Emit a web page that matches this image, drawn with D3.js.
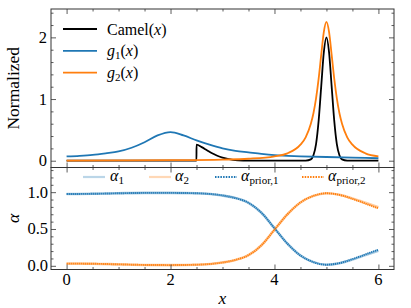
<!DOCTYPE html>
<html><head><meta charset="utf-8">
<script src="https://cdn.jsdelivr.net/npm/d3@7"></script>
<style>
html,body{margin:0;padding:0;background:#fff;}
text{font-family:"Liberation Serif","Times New Roman",serif;fill:#000;}
</style></head>
<body><svg id="c" width="411" height="308"></svg>
<script>
// ---------- data ----------
const camelX = [0, 1, 2, 2.499, 2.5, 2.6, 2.7, 2.8, 2.9, 3.0, 3.1, 3.2, 3.3, 3.5, 4.0, 4.5, 4.6, 4.7, 4.75, 4.8, 4.85, 4.9, 4.95, 5.0, 5.05, 5.1, 5.15, 5.2, 5.25, 5.3, 5.4, 5.5, 6.0];
const camelY = [0, 0, 0, 0, 0.26, 0.22, 0.17, 0.12, 0.08, 0.05, 0.03, 0.015, 0.007, 0.001, 0, 0, 0.002, 0.022, 0.088, 0.27, 0.65, 1.21, 1.76, 2.0, 1.76, 1.21, 0.65, 0.27, 0.088, 0.022, 0.002, 0, 0];
const g1X = [0, 0.25, 0.5, 0.75, 1.0, 1.25, 1.5, 1.75, 2.0, 2.25, 2.5, 2.75, 3.0, 3.25, 3.5, 3.75, 4.0, 4.5, 5.0, 5.5, 6.0];
const g1Y = [0.07, 0.08, 0.095, 0.12, 0.15, 0.21, 0.30, 0.41, 0.465, 0.41, 0.33, 0.26, 0.20, 0.16, 0.135, 0.11, 0.09, 0.072, 0.06, 0.05, 0.04];
const g2X = [0, 1, 2, 3, 3.5, 4, 4.25, 4.5, 4.6, 4.7, 4.75, 4.8, 4.85, 4.9, 4.95, 5.0, 5.05, 5.1, 5.15, 5.2, 5.25, 5.3, 5.4, 5.5, 5.75, 6.0];
const g2Y = [0.003, 0.0045, 0.008, 0.018, 0.032, 0.071, 0.12, 0.26, 0.38, 0.60, 0.77, 1.01, 1.33, 1.72, 2.09, 2.25, 2.09, 1.72, 1.33, 1.01, 0.77, 0.60, 0.38, 0.26, 0.12, 0.071];

const aX = [0, 0.5, 1, 1.5, 2, 2.5, 3, 3.25, 3.5, 3.75, 4, 4.25, 4.5, 4.75, 5, 5.25, 5.5, 5.75, 6];
const alpha1 = [0.975, 0.978, 0.985, 0.99, 0.99, 0.985, 0.955, 0.92, 0.855, 0.72, 0.51, 0.30, 0.14, 0.05, 0.015, 0.035, 0.085, 0.145, 0.205];
const alpha2 = [0.03, 0.028, 0.02, 0.012, 0.01, 0.015, 0.045, 0.08, 0.145, 0.28, 0.49, 0.70, 0.86, 0.95, 0.985, 0.965, 0.915, 0.855, 0.795];
const prior1 = [0.975, 0.978, 0.985, 0.99, 0.99, 0.985, 0.955, 0.92, 0.855, 0.72, 0.51, 0.30, 0.14, 0.05, 0.015, 0.037, 0.09, 0.155, 0.22];
const prior2 = [0.03, 0.028, 0.02, 0.012, 0.01, 0.015, 0.045, 0.08, 0.145, 0.28, 0.49, 0.70, 0.86, 0.95, 0.985, 0.963, 0.91, 0.845, 0.78];

const xMajor = [0, 2, 4, 6];
const xLabels = ["0", "2", "4", "6"];
const topMajor = [0, 1, 2];
const topLabels = ["0", "1", "2"];
const botMajor = [0, 0.5, 1.0];
const botLabels = ["0.0", "0.5", "1.0"];

// ---------- layout ----------
const BLUE = "#1f77b4", ORANGE = "#ff7f0e";
const svg = d3.select("#c");
const L = 51, R = 394, T = 9, MID = 167.5, B = 269.5;
const x = d3.scaleLinear().domain([-0.3, 6.3]).range([L, R]);
const yT = d3.scaleLinear().domain([-0.11, 2.46]).range([MID, T]);
const yB = d3.scaleLinear().domain([-0.05, 1.335]).range([B, MID]);

svg.append("clipPath").attr("id","ct").append("rect").attr("x",L).attr("y",T).attr("width",R-L).attr("height",MID-T);
svg.append("clipPath").attr("id","cb").append("rect").attr("x",L).attr("y",MID).attr("width",R-L).attr("height",B-MID);

function zip(xs, ys){ return xs.map((v,i)=>[v, ys[i]]); }

const gT = svg.append("g").attr("clip-path","url(#ct)");
const gB = svg.append("g").attr("clip-path","url(#cb)");

const lineT = d3.line().x(d=>x(d[0])).y(d=>yT(d[1])).curve(d3.curveMonotoneX);
const lineB = d3.line().x(d=>x(d[0])).y(d=>yB(d[1])).curve(d3.curveMonotoneX);

gT.append("path").attr("d", lineT(zip(camelX, camelY))).attr("fill","none").attr("stroke","#000").attr("stroke-width",1.8);
gT.append("path").attr("d", lineT(zip(g1X, g1Y))).attr("fill","none").attr("stroke",BLUE).attr("stroke-width",1.8);
gT.append("path").attr("d", lineT(zip(g2X, g2Y))).attr("fill","none").attr("stroke",ORANGE).attr("stroke-width",1.8);

const DASH = "1.3,0.7";
gB.append("path").attr("d", lineB(zip(aX, alpha1))).attr("fill","none").attr("stroke",BLUE).attr("stroke-opacity",0.4).attr("stroke-width",2.6);
gB.append("path").attr("d", lineB(zip(aX, alpha2))).attr("fill","none").attr("stroke",ORANGE).attr("stroke-opacity",0.4).attr("stroke-width",2.6);
gB.append("path").attr("d", lineB(zip(aX, prior1))).attr("fill","none").attr("stroke",BLUE).attr("stroke-width",1.9).attr("stroke-dasharray",DASH);
gB.append("path").attr("d", lineB(zip(aX, prior2))).attr("fill","none").attr("stroke",ORANGE).attr("stroke-width",1.9).attr("stroke-dasharray",DASH);

// ---------- axes ----------
const MAJ = 5, MIN = 2.5;
const xMinor = d3.range(0, 6.01, 0.5).filter(v => !xMajor.includes(v));
const topMinor = d3.range(0, 2.41, 0.2).map(v=>+v.toFixed(2)).filter(v => !topMajor.includes(v));
const botMinor = d3.range(0, 1.31, 0.1).map(v=>+v.toFixed(2)).filter(v => !botMajor.includes(v));

function ticks(g, axisFn, scale, vals, size, trans){
  const a = axisFn(scale).tickValues(vals).tickSize(size).tickFormat("");
  const s = g.append("g").attr("transform", trans).call(a);
  s.select(".domain").remove();
  s.selectAll("line").attr("stroke","#333").attr("stroke-width",0.8);
  return s;
}
const ax = svg.append("g");
ticks(ax, d3.axisBottom, x, xMajor, -MAJ, `translate(0,${MID})`);
ticks(ax, d3.axisBottom, x, xMinor, -MIN, `translate(0,${MID})`);
ticks(ax, d3.axisTop, x, xMajor, -MAJ, `translate(0,${T})`);
ticks(ax, d3.axisTop, x, xMinor, -MIN, `translate(0,${T})`);
ticks(ax, d3.axisLeft, yT, topMajor, -MAJ, `translate(${L},0)`);
ticks(ax, d3.axisLeft, yT, topMinor, -MIN, `translate(${L},0)`);
ticks(ax, d3.axisRight, yT, topMajor, -MAJ, `translate(${R},0)`);
ticks(ax, d3.axisRight, yT, topMinor, -MIN, `translate(${R},0)`);
ticks(ax, d3.axisBottom, x, xMajor, -MAJ, `translate(0,${B})`);
ticks(ax, d3.axisBottom, x, xMinor, -MIN, `translate(0,${B})`);
ticks(ax, d3.axisTop, x, xMajor, -MAJ, `translate(0,${MID})`);
ticks(ax, d3.axisTop, x, xMinor, -MIN, `translate(0,${MID})`);
ticks(ax, d3.axisLeft, yB, botMajor, -MAJ, `translate(${L},0)`);
ticks(ax, d3.axisLeft, yB, botMinor, -MIN, `translate(${L},0)`);
ticks(ax, d3.axisRight, yB, botMajor, -MAJ, `translate(${R},0)`);
ticks(ax, d3.axisRight, yB, botMinor, -MIN, `translate(${R},0)`);

svg.append("rect").attr("x",L).attr("y",T).attr("width",R-L).attr("height",MID-T).attr("fill","none").attr("stroke","#333").attr("stroke-width",1);
svg.append("rect").attr("x",L).attr("y",MID).attr("width",R-L).attr("height",B-MID).attr("fill","none").attr("stroke","#333").attr("stroke-width",1);

const FS = 16.5;
svg.append("g").selectAll("text").data(xMajor).join("text")
  .attr("x", d=>x(d)).attr("y", B+15.5).attr("text-anchor","middle").attr("font-size",FS)
  .text((d,i)=>xLabels[i]);
svg.append("g").selectAll("text").data(topMajor).join("text")
  .attr("x", L-4).attr("y", d=>yT(d)+5.5).attr("text-anchor","end").attr("font-size",FS)
  .text((d,i)=>topLabels[i]);
svg.append("g").selectAll("text").data(botMajor).join("text")
  .attr("x", L-3).attr("y", d=>yB(d)+5.5).attr("text-anchor","end").attr("font-size",FS)
  .text((d,i)=>botLabels[i]);

svg.append("text").attr("transform",`translate(19,${(T+MID)/2}) rotate(-90)`).attr("text-anchor","middle").attr("font-size",17.5).text("Normalized");
svg.append("text").attr("transform",`translate(19,${(MID+B)/2}) rotate(-90)`).attr("text-anchor","middle").attr("font-size",17.5).attr("font-style","italic").text("α");
svg.append("text").attr("x",(L+R)/2).attr("y",304).attr("text-anchor","middle").attr("font-size",17.5).attr("font-style","italic").text("x");

// ---------- legends ----------
const legTop = [
  {c:"#000", name:"Camel"},
  {c:BLUE, sym:"g", sub:"1"},
  {c:ORANGE, sym:"g", sub:"2"}
];
const lt = svg.append("g");
legTop.forEach((d,i)=>{
  const yy = 29 + i*21.8;
  lt.append("line").attr("x1",63).attr("x2",97).attr("y1",yy).attr("y2",yy).attr("stroke",d.c).attr("stroke-width",1.8);
  const t = lt.append("text").attr("x",107).attr("y",yy+5.5).attr("font-size",16);
  if(d.name){ t.append("tspan").text("Camel("); }
  else { t.append("tspan").attr("font-style","italic").text(d.sym);
         t.append("tspan").attr("font-size",11).attr("dy",3).text(d.sub);
         t.append("tspan").attr("dy",-3).text("("); }
  t.append("tspan").attr("font-style","italic").text("x");
  t.append("tspan").text(")");
});

const legBot = [
  {c:BLUE, x1:83, x2:105, tx:110, sub:"1", dash:false},
  {c:ORANGE, x1:149, x2:171, tx:175, sub:"2", dash:false},
  {c:BLUE, x1:215, x2:237, tx:241, sub:"prior,1", dash:true},
  {c:ORANGE, x1:302, x2:324, tx:328, sub:"prior,2", dash:true}
];
const lb = svg.append("g");
legBot.forEach(d=>{
  const yy = 177;
  const l = lb.append("line").attr("x1",d.x1).attr("x2",d.x2).attr("y1",yy).attr("y2",yy).attr("stroke",d.c);
  if(d.dash) l.attr("stroke-width",1.8).attr("stroke-dasharray","1.5,1.2");
  else l.attr("stroke-width",2.2).attr("stroke-opacity",0.3);
  const t = lb.append("text").attr("x",d.tx).attr("y",yy+4).attr("font-size",16);
  t.append("tspan").attr("font-style","italic").text("α");
  t.append("tspan").attr("font-size",11).attr("dy",3).text(d.sub);
});
</script>
</body></html>
